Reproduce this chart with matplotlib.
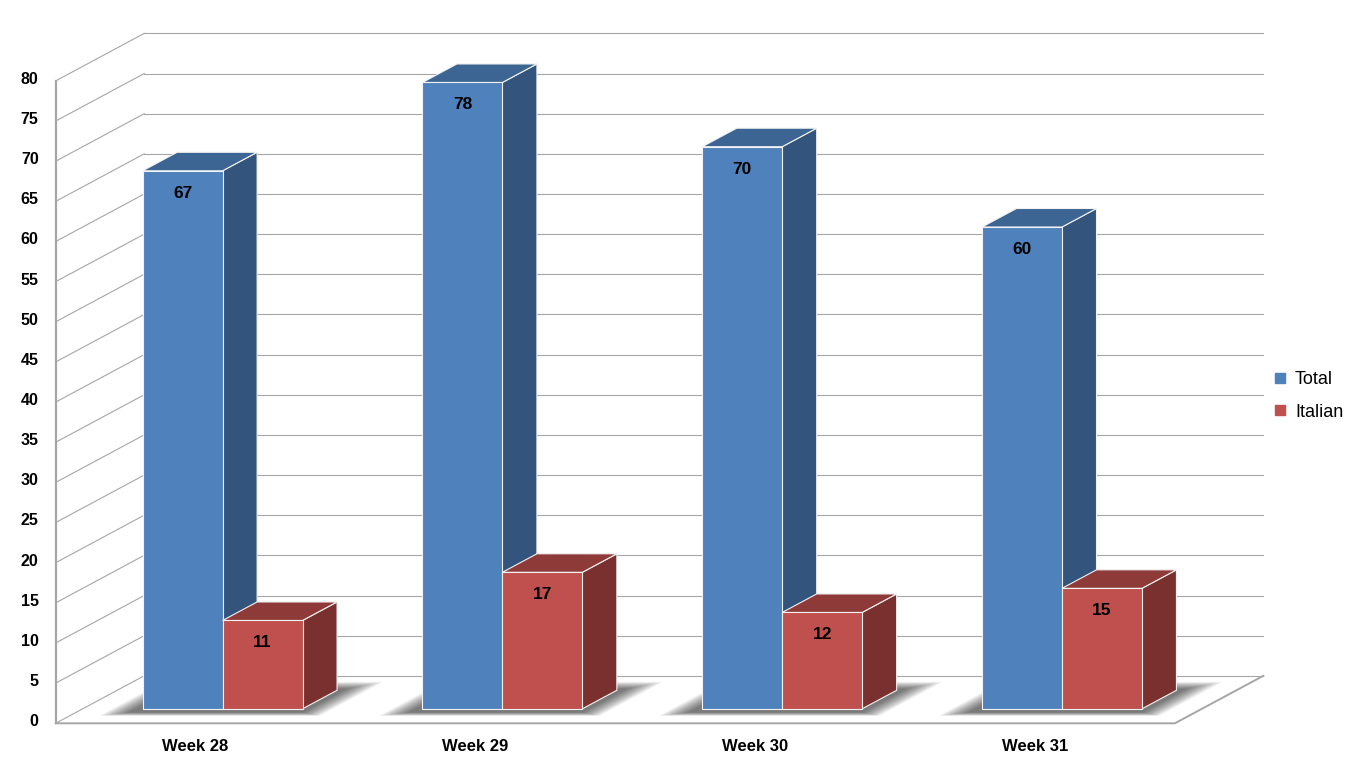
import numpy as np
import matplotlib
matplotlib.use('Agg')
import matplotlib.pyplot as plt
from matplotlib.patches import Polygon
from matplotlib.lines import Line2D

plt.rcParams['font.family'] = ['Liberation Sans', 'DejaVu Sans']

# chart data
weeks = ['Week 28', 'Week 29', 'Week 30', 'Week 31']
total = [67, 78, 70, 60]
italian = [11, 17, 12, 15]
series_names = ['Total', 'Italian']
y_ticks = list(range(0, 85, 5))

# face colours: front, side, top
BLUE = ('#4F81BD', '#33547C', '#3D6593')
RED = ('#C0504D', '#7B3030', '#8E3A38')
GRID = '#A6A6A6'

# geometry of the oblique view (data units)
PX_X = 279.8     # pixels per category
PX_Y = 8.03      # pixels per value unit
DX = 88.5 / PX_X  # full depth offset, x
DY = 47.5 / PX_Y  # full depth offset, y
T0, T1 = 0.305, 0.695   # bar depth range (fraction of floor depth)
W = 1 / 3.5             # bar width, gap width 150%
VMAX = 80

fig = plt.figure(figsize=(13.68, 7.63), dpi=100)
ax = fig.add_axes([0, 0, 1, 1])
ax.axis('off')
x_left = -0.5 - 55.7 / PX_X
ax.set_xlim(x_left, x_left + 1368 / PX_X)
ax.set_ylim(-(763 - 723.3) / PX_Y, 723.3 / PX_Y)

n = len(weeks)
x0, x1 = -0.5, n - 0.5

# walls and gridlines
for v in y_ticks:
    ax.plot([x0, x0 + DX], [v, v + DY], color=GRID, lw=0.8, zorder=1)
    ax.plot([x0 + DX, x1 + DX], [v + DY, v + DY], color=GRID, lw=0.8, zorder=1)
    ax.text(x0 - 17 / PX_X, v + 0.2, str(v), ha='right', va='center',
            fontsize=11.5, fontweight='bold', color='black')
ax.plot([x0, x0], [0, VMAX], color=GRID, lw=1.6, zorder=2)
ax.plot([x0, x1, x1 + DX], [0, 0, DY], color=GRID, lw=1.4, zorder=2)


def draw_box(xl, h, colors, z):
    xf = xl + T0 * DX
    b = T0 * DY
    d = T1 - T0
    ex, ey = d * DX, d * DY
    kw = dict(edgecolor='#F2F2F2', lw=0.8, joinstyle='miter', zorder=z)
    front = Polygon([(xf, b), (xf + W, b), (xf + W, b + h), (xf, b + h)],
                    facecolor=colors[0], **kw)
    side = Polygon([(xf + W, b), (xf + W + ex, b + ey),
                    (xf + W + ex, b + h + ey), (xf + W, b + h)],
                   facecolor=colors[1], **kw)
    top = Polygon([(xf, b + h), (xf + W, b + h),
                   (xf + W + ex, b + h + ey), (xf + ex, b + h + ey)],
                  facecolor=colors[2], **kw)
    for p in (side, top, front):
        ax.add_patch(p)
    return xf, b


def draw_shadow(xl, xr):
    # soft shadow on the floor under a group of bars
    steps = 24
    for k in range(steps):
        s = k / steps
        xa = xl - 0.11 + s * 0.09
        xb = xr + 0.11 - s * 0.09
        ta = T0 - 0.15 + s * 0.08
        tb = T1 + 0.18 - s * 0.16
        pts = [(xa + ta * DX, ta * DY), (xb + ta * DX, ta * DY),
               (xb + tb * DX, tb * DY), (xa + tb * DX, tb * DY)]
        ax.add_patch(Polygon(pts, facecolor='black', alpha=0.026,
                             lw=0, zorder=3))


for i in range(n):
    draw_shadow(i - W, i + W)
    for j, (vals, cols) in enumerate([(total, BLUE), (italian, RED)]):
        xl = i - W + j * W
        xf, b = draw_box(xl, vals[i], cols, 4 + 2 * i + j)
        ax.text(xf + W / 2, b + vals[i] - 2.8, str(vals[i]), ha='center',
                va='center', fontsize=12.5, fontweight='bold', color='black',
                zorder=20)
    ax.text(i, -2.95, weeks[i], ha='center', va='center', fontsize=12,
            fontweight='bold', color='black')

handles = [Line2D([], [], marker='s', ls='none', markersize=7,
                  markerfacecolor=c[0], markeredgecolor=c[0])
           for c in (BLUE, RED)]
fig.legend(handles, series_names, loc='center left',
           bbox_to_anchor=(1266 / 1368, 1 - 396 / 763), frameon=False,
           fontsize=13, handlelength=0.6, handletextpad=0.5,
           labelspacing=0.85, borderpad=0)

fig.savefig('out.png', dpi=100)
